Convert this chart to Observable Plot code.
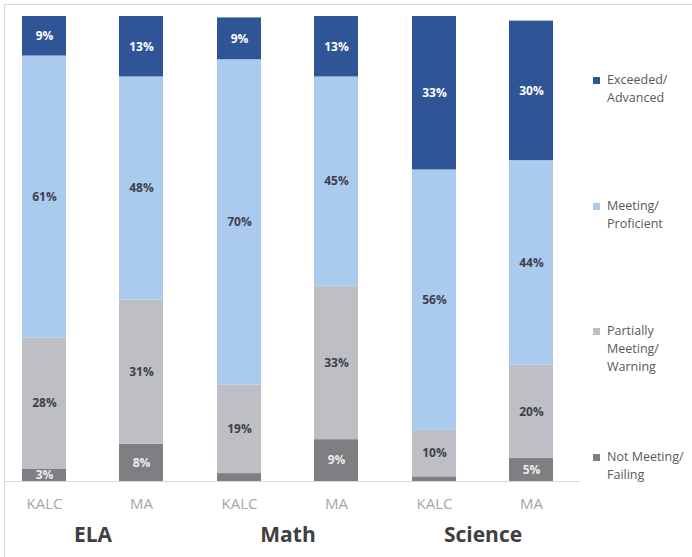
<!DOCTYPE html>
<html>
<head>
<meta charset="utf-8">
<script src="https://cdn.jsdelivr.net/npm/d3@7"></script>
<script src="https://cdn.jsdelivr.net/npm/@observablehq/plot@0.6"></script>
<style>
  html, body { margin: 0; padding: 0; background: #fff; overflow: hidden; }
  body { width: 692px; height: 557px; position: relative; font-family: "Open Sans", sans-serif; }
  #frame { position: absolute; left: 4px; top: 4px; width: 700px; height: 600px;
           border: 1px solid #d9d9d9; overflow: hidden; }
  #chart { position: absolute; left: -9.75px; top: 0; }
  #legend { position: absolute; left: 588px; top: 0; }
  .item { position: absolute; left: 0; display: flex; align-items: flex-start;
          font-size: 12.5px; line-height: 18px; color: #595959; white-space: nowrap; }
  .sw { width: 7px; height: 7px; margin-top: 6px; margin-right: 7px; flex: none; }
</style>
</head>
<body>
<div id="frame"><div id="chart"></div><div id="legend"></div></div>
<script>
// ---- data ----
const subjects = ["ELA", "Math", "Science"];
const schools = ["KALC", "MA"];
// bar order: ELA-KALC, ELA-MA, Math-KALC, Math-MA, Science-KALC, Science-MA
const levels = ["Not Meeting/ Failing", "Partially Meeting/ Warning", "Meeting/ Proficient", "Exceeded/ Advanced"];
// estimated values (percent); labels show them rounded
const notMeeting = [2.7, 8, 1.7, 9, 1, 5];
const partially  = [28.2, 31, 19, 33, 10, 20];
const meeting    = [60.6, 48, 70, 45, 56, 44];
const exceeded   = [8.5, 13, 9, 13, 33, 30];
const legendLines = [["Not Meeting/", "Failing"], ["Partially", "Meeting/", "Warning"], ["Meeting/", "Proficient"], ["Exceeded/", "Advanced"]];

const colors = ["#7f7f83", "#bdbfc5", "#abcbee", "#2f5597"];
const textColors = ["#ececec", "#3f3f46", "#3f4150", "#ffffff"];

const series = [notMeeting, partially, meeting, exceeded];
const rows = [];
series.forEach((vals, li) => {
  vals.forEach((v, bi) => {
    rows.push({
      subject: subjects[Math.floor(bi / 2)],
      school: schools[bi % 2],
      level: levels[li],
      li,
      value: v
    });
  });
});

const chart = Plot.plot({
  width: 585,
  height: 552,
  marginLeft: 0,
  marginRight: 0,
  marginTop: 11,
  marginBottom: 76,
  style: { fontFamily: "Open Sans, sans-serif", background: "transparent", overflow: "visible" },
  fx: { domain: subjects, padding: 0, label: null },
  x: { domain: schools, paddingInner: 0.55, paddingOuter: 0.275, label: null },
  y: { domain: [0, 100], axis: null },
  color: { domain: levels, range: colors },
  marks: [
    Plot.barY(rows, { fx: "subject", x: "school", y: "value", z: "level", fill: "level", order: levels }),
    Plot.ruleY([0], { stroke: "#d9d9d9", strokeWidth: 1 }),
    Plot.text(rows, Plot.stackY({
      fx: "subject", x: "school", y: "value", z: "level", order: levels,
      text: d => d.value >= 2.5 ? Math.round(d.value) + "%" : null,
      fill: d => textColors[d.li],
      fontSize: 12, fontWeight: "bold"
    })),
    Plot.axisX({ tickSize: 0, tickPadding: 17, fontSize: 15, color: "#a6a6a6", label: null }),
    Plot.axisFx({ anchor: "bottom", tickSize: 0, tickPadding: 46, fontSize: 21, fontWeight: "bold", color: "#404040", label: null })
  ]
});
document.getElementById("chart").appendChild(chart);

// legend (top to bottom: reverse of stack order)
const legend = document.getElementById("legend");
const order = [3, 2, 1, 0];
order.forEach((li, i) => {
  const item = document.createElement("div");
  item.className = "item";
  item.style.top = (66 + i * 125.5) + "px";
  const sw = document.createElement("div");
  sw.className = "sw";
  sw.style.background = colors[li];
  const txt = document.createElement("div");
  txt.innerHTML = legendLines[li].join("<br>");
  item.appendChild(sw);
  item.appendChild(txt);
  legend.appendChild(item);
});
</script>
</body>
</html>
